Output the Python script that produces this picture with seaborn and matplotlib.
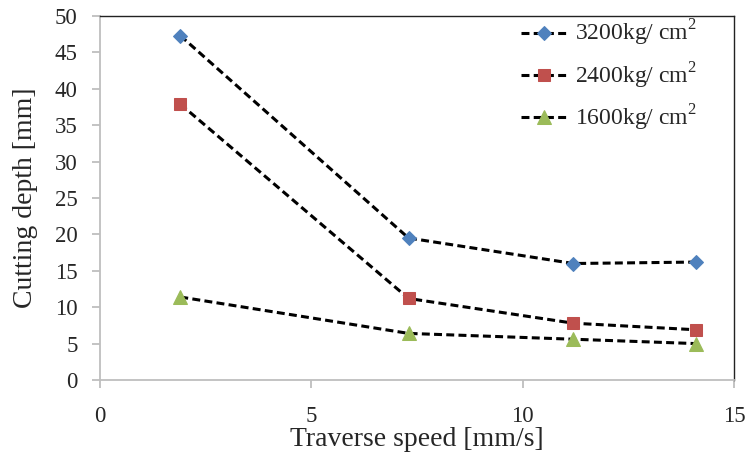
import matplotlib
matplotlib.use("Agg")
import matplotlib.pyplot as plt
import seaborn as sns
import pandas as pd

# traverse speed [mm/s] and cutting depth [mm] for three pressures
speed = [1.9, 7.3, 11.2, 14.1]
depth_3200 = [47.3, 19.5, 16.0, 16.2]
depth_2400 = [37.9, 11.2, 7.8, 6.9]
depth_1600 = [11.4, 6.4, 5.6, 5.0]

labels = ["3200kg/ cm$^{2}$", "2400kg/ cm$^{2}$", "1600kg/ cm$^{2}$"]
colors = ["#4F81BD", "#C0504D", "#9BBB59"]
markers = ["D", "s", "^"]
msizes = [7, 9, 9.5]

sns.set_style("white")
plt.rcParams["font.family"] = ["Liberation Serif", "DejaVu Serif"]
plt.rcParams["mathtext.fontset"] = "custom"
plt.rcParams["mathtext.rm"] = "Liberation Serif"

fig = plt.figure(figsize=(7.5, 4.57), dpi=100)
ax = fig.add_axes([0.1333, 0.1685, 0.8454, 0.7965])

series = [depth_3200, depth_2400, depth_1600]
for vals, lab, col, mk, ms in zip(series, labels, colors, markers, msizes):
    df = pd.DataFrame({"speed": speed, "depth": vals})
    sns.lineplot(data=df, x="speed", y="depth", ax=ax, color="black",
                 linestyle=(0, (2.6, 1.4)), linewidth=2.2, marker=mk,
                 markersize=ms, markerfacecolor=col, markeredgecolor=col,
                 label=lab)

ax.set_xlim(0, 15)
ax.set_ylim(0, 50)
ax.set_xticks([0, 5, 10, 15])
ax.set_yticks(range(0, 51, 5))
ax.set_xlabel("Traverse speed [mm/s]", fontsize=20, labelpad=0)
ax.set_ylabel("Cutting depth [mm]", fontsize=20, labelpad=12)

for s in ["left", "bottom"]:
    ax.spines[s].set_color("#BEBEBE")
    ax.spines[s].set_linewidth(1.3)
for s in ["top", "right"]:
    ax.spines[s].set_color("#222222")
    ax.spines[s].set_linewidth(1.0)
ax.tick_params(axis="both", direction="out", length=6, width=1.3,
               color="#BEBEBE", labelsize=16.5, pad=10)
ax.tick_params(axis="x", pad=13)
ax.tick_params(left=True, bottom=True)

leg = ax.legend(loc="upper right", bbox_to_anchor=(0.956, 1.02), frameon=False,
                fontsize=17, handlelength=2.0, handletextpad=0.3,
                labelspacing=0.5, borderaxespad=0)

fig.savefig("out.png", dpi=100)
